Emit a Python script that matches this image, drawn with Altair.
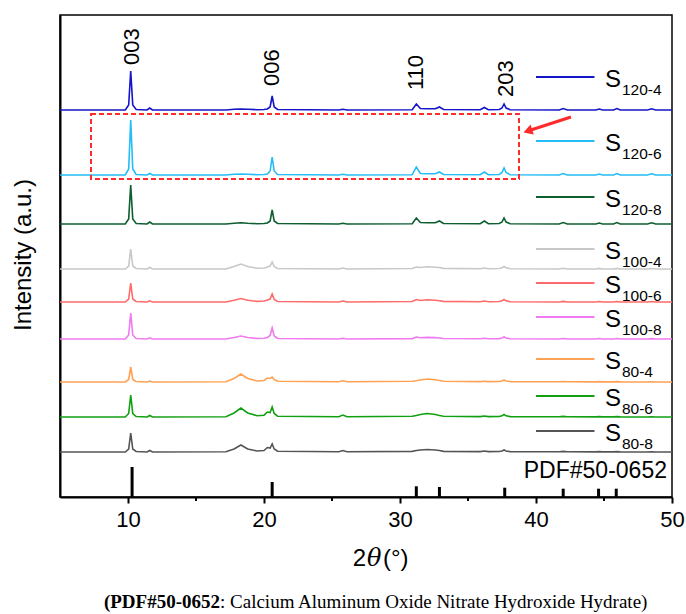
import altair as alt
import pandas as pd

# ---------------- data ----------------
two_theta = [5.0, 9.8, 10.05, 10.2, 10.35, 10.6,
             11.4, 11.6, 11.8,
             17.2, 17.8, 18.3, 18.8, 19.5,
             20.0, 20.25, 20.45, 20.6, 20.75, 21.0,
             25.5, 25.8, 26.1,
             30.9, 31.2, 31.5, 32.0, 32.6, 32.9, 33.2,
             35.9, 36.2, 36.5,
             37.3, 37.5, 37.65, 37.8, 38.1,
             41.7, 42.0, 42.3,
             44.4, 44.65, 44.9,
             45.7, 45.95, 46.2,
             48.2, 48.5, 48.8,
             50.0]

series_names = ["S120-4", "S120-6", "S120-8", "S100-4", "S100-6", "S100-8",
                "S80-4", "S80-6", "S80-8"]
sub_labels = ["120-4", "120-6", "120-8", "100-4", "100-6", "100-8",
              "80-4", "80-6", "80-8"]
series_colors = ["#1414c8", "#25bdf5", "#0e5e30", "#c8c8c8", "#ff6a6a",
                 "#f07af0", "#ffa256", "#12a012", "#555555"]
offsets = [387, 322, 273, 228, 195, 158, 115, 80, 45]
legend_y = [420, 356, 300, 248, 214, 180, 138, 101, 66]

int_120_4 = [0, 0, 5, 39, 5, 0.5,
             0, 2, 0,
             0, 0.7, 1, 0.7, 0.3,
             0.5, 1, 3, 14, 3, 0.5,
             0, 0.8, 0,
             0.3, 6, 1.5, 1.2, 1.2, 3, 0.5,
             0.3, 2.5, 0.3,
             0.5, 2, 6, 2, 0.3,
             0, 1.5, 0,
             0, 1, 0,
             0, 1.5, 0,
             0, 1.2, 0,
             0]
int_120_6 = [0, 0, 6, 55, 6, 0.5,
             0, 1.5, 0,
             0, 0.7, 1, 0.7, 0.3,
             0.5, 1, 4, 18, 4, 0.5,
             0, 0.8, 0,
             0.3, 8, 1.5, 1.2, 1.2, 3, 0.5,
             0.3, 3, 0.3,
             0.5, 2.5, 7, 2.5, 0.3,
             0, 1.5, 0,
             0, 1, 0,
             0, 1.5, 0,
             0, 1.2, 0,
             0]
int_120_8 = [0, 0, 5, 39, 5, 0.5,
             0, 2, 0,
             0, 0.7, 1.2, 0.7, 0.3,
             0.5, 1, 3, 14, 3, 0.5,
             0, 0.8, 0,
             0.3, 6, 1.5, 1.2, 1.2, 3, 0.5,
             0.3, 3, 0.3,
             0.5, 2, 6, 2, 0.3,
             0, 1.5, 0,
             0, 1, 0,
             0, 1.5, 0,
             0, 1.2, 0,
             0]
int_100_4 = [0, 0, 3, 20, 3, 0.5,
             0, 1.5, 0,
             0, 2.5, 5, 2.5, 0.8,
             1, 2, 3, 7, 2.5, 0.5,
             0, 1, 0,
             0.5, 2, 1.5, 2.2, 1.8, 1.5, 0.6,
             0.3, 1, 0.3,
             0.5, 1.2, 2.5, 1.2, 0.3,
             0, 0.8, 0,
             0, 0.6, 0,
             0, 0.6, 0,
             0, 0.5, 0,
             0]
int_100_6 = [0, 0, 3, 19, 3, 0.5,
             0, 1.2, 0,
             0, 1.8, 3.5, 1.8, 0.6,
             1, 2, 3, 8, 2.5, 0.5,
             0, 1, 0,
             0.5, 2.5, 1.5, 2.2, 1.8, 1.2, 0.6,
             0.3, 1, 0.3,
             0.5, 1.2, 2.5, 1.2, 0.3,
             0, 0.6, 0,
             0, 0.5, 0,
             0, 0.5, 0,
             0, 0.5, 0,
             0]
int_100_8 = [0, 0, 4, 26, 4, 0.5,
             0, 1.2, 0,
             0, 1.5, 3, 1.5, 0.5,
             0.8, 1.5, 3.5, 11, 3, 0.5,
             0, 0.7, 0,
             0.4, 2, 1.2, 1.6, 1.4, 1, 0.5,
             0.3, 0.8, 0.3,
             0.4, 1, 2, 1, 0.3,
             0, 0.5, 0,
             0, 0.5, 0,
             0, 0.5, 0,
             0, 0.4, 0,
             0]
int_80_4 = [0, 0, 2.5, 15, 2.5, 0.5,
            0, 1, 0,
            0.3, 3.5, 8, 3.5, 1,
            1.5, 4, 3.5, 5, 2.5, 0.8,
            0.3, 1.2, 0.3,
            0.8, 1.2, 2, 3, 2.2, 1.5, 0.8,
            0.4, 0.8, 0.4,
            0.5, 1, 2, 1, 0.4,
            0.2, 0.5, 0.2,
            0.1, 0.4, 0.1,
            0.1, 0.4, 0.1,
            0, 0.3, 0,
            0]
int_80_6 = [0, 0, 3.5, 22, 3.5, 0.5,
            0, 1.5, 0,
            0.3, 4, 9, 4, 1.2,
            1.8, 5, 4.5, 10, 3.5, 0.8,
            0.3, 2, 0.3,
            0.8, 1.5, 2.5, 3.5, 2.5, 1.5, 0.8,
            0.4, 1, 0.4,
            0.5, 1.2, 2.5, 1.2, 0.4,
            0.2, 0.6, 0.2,
            0.1, 0.4, 0.1,
            0.1, 0.4, 0.1,
            0, 0.3, 0,
            0]
int_80_8 = [0, 0, 3, 19, 3, 0.5,
            0, 1.5, 0,
            0.3, 3, 7, 3, 1,
            1.5, 4.5, 4, 8, 3, 0.8,
            0.3, 1.5, 0.3,
            0.6, 1.5, 2, 2.5, 2, 1.5, 0.6,
            0.4, 1, 0.4,
            0.5, 1, 2, 1, 0.4,
            0.2, 0.6, 0.2,
            0.1, 0.4, 0.1,
            0.1, 0.4, 0.1,
            0, 0.3, 0,
            0]

intensities = [int_120_4, int_120_6, int_120_8, int_100_4, int_100_6,
               int_100_8, int_80_4, int_80_6, int_80_8]

pdf_pos = [10.3, 20.6, 31.2, 32.9, 37.7, 42.0, 44.6, 45.9]
pdf_height = [30, 15, 10.7, 10, 9.3, 8.3, 8.3, 8.3]
pdf_label = "PDF#50-0652"

peak_labels = ["003", "006", "110", "203"]
peak_label_x = [10.3, 20.6, 31.2, 37.8]
peak_label_y = [432, 411, 407, 400]

minor_ticks = [15, 25, 35, 45]
major_ticks = [10, 20, 30, 40, 50]

box_x = [7.28, 38.75]
box_y = [318, 383]
arrow_x = [42.57, 39.4]
arrow_y = [380, 366]

caption_bold = "(PDF#50-0652"
caption_rest = ": Calcium Aluminum Oxide Nitrate Hydroxide Hydrate)"

# ---------------- build tables ----------------
rows = []
for name, off, vals in zip(series_names, offsets, intensities):
    assert len(vals) == len(two_theta), name
    for xv, v in zip(two_theta, vals):
        rows.append({"series": name, "x": xv, "y": off + v})
df_lines = pd.DataFrame(rows)

df_pdf = pd.DataFrame({"x": pdf_pos, "y": [0] * len(pdf_pos), "y2": pdf_height})
df_peaks = pd.DataFrame({"label": peak_labels, "x": peak_label_x, "y": peak_label_y})

LEG_X0, LEG_X1, LEG_S_X, LEG_SUB_X = 40.0, 44.3, 45.07, 46.32
df_leg = pd.DataFrame({"series": series_names, "sub": sub_labels, "y": legend_y})
df_leg["x"] = LEG_X0
df_leg["x2"] = LEG_X1
df_leg["xs"] = LEG_S_X
df_leg["xsub"] = LEG_SUB_X

df_box = pd.DataFrame({"x": [box_x[0]], "x2": [box_x[1]], "y": [box_y[0]], "y2": [box_y[1]]})
df_arrow = pd.DataFrame({"x": arrow_x, "y": arrow_y, "o": [0, 1]})
df_head = pd.DataFrame({"x": [arrow_x[1]], "y": [arrow_y[1]]})
df_minor = pd.DataFrame({"x": minor_ticks})
df_one = pd.DataFrame({"t": [""]})

FONT = "Liberation Sans"
RED = "#ff2a2a"

xscale = alt.Scale(domain=[5, 50], nice=False, zero=False)
yscale = alt.Scale(domain=[0, 482], nice=False, zero=False)
xaxis = alt.Axis(values=major_ticks, tickSize=6, tickWidth=2, tickColor="black",
                 labelFontSize=22, labelFont=FONT, labelColor="black", labelPadding=6,
                 domainColor="black", domainWidth=2, grid=False, title=None,
                 labelFlush=False)
yaxis = alt.Axis(labels=False, ticks=False, grid=False, title=None,
                 domainColor="black", domainWidth=2)


def X(field="x"):
    return alt.X(f"{field}:Q", scale=xscale, axis=xaxis)


def Y(field="y"):
    return alt.Y(f"{field}:Q", scale=yscale, axis=yaxis)


color = alt.Color("series:N", scale=alt.Scale(domain=series_names, range=series_colors),
                  legend=None)

lines = alt.Chart(df_lines).mark_line(strokeWidth=1.6).encode(
    x=X(), y=Y(), color=color, order=alt.Order("x:Q"))

sticks = alt.Chart(df_pdf).mark_rule(strokeWidth=3, color="black").encode(
    x=X(), y=Y(), y2="y2:Q")

pdf_text = alt.Chart(pd.DataFrame({"t": [pdf_label], "x": [49.63], "y": [19]})).mark_text(
    align="right", baseline="alphabetic", fontSize=23, font=FONT, color="black"
).encode(x=X(), y=Y(), text="t:N")

peaks = alt.Chart(df_peaks).mark_text(
    angle=270, align="left", baseline="middle", fontSize=22, font=FONT, color="black"
).encode(x=X(), y=Y(), text="label:N")

leg_rules = alt.Chart(df_leg).mark_rule(strokeWidth=2).encode(
    x=X(), x2="x2:Q", y=Y(), color=color)
leg_s = alt.Chart(df_leg).mark_text(
    align="left", baseline="alphabetic", dy=10, fontSize=24, font=FONT, color="black"
).encode(x=X("xs"), y=Y(), text=alt.value("S"))
leg_sub = alt.Chart(df_leg).mark_text(
    align="left", baseline="alphabetic", dy=18, fontSize=15.5, font=FONT, color="black"
).encode(x=X("xsub"), y=Y(), text="sub:N")

box = alt.Chart(df_box).mark_rect(filled=False, stroke=RED, strokeWidth=2,
                                  strokeDash=[5, 3]).encode(
    x=X(), x2="x2:Q", y=Y(), y2="y2:Q")
arrow = alt.Chart(df_arrow).mark_line(color=RED, strokeWidth=3).encode(
    x=X(), y=Y(), order="o:Q")
head = alt.Chart(df_head).mark_point(shape="triangle-up", filled=True, color=RED,
                                     opacity=1, size=110, angle=252).encode(x=X(), y=Y())

minor = alt.Chart(df_minor).mark_rule(strokeWidth=2, color="black").encode(
    x=X(), y=alt.value(482), y2=alt.value(486))

# titles / caption (pixel positions relative to plot area)
y_title = alt.Chart(df_one).mark_text(
    angle=270, align="center", baseline="middle", fontSize=24, font=FONT, color="black"
).encode(x=alt.value(-36), y=alt.value(240), text=alt.value("Intensity (a.u.)"))

xt_2 = alt.Chart(df_one).mark_text(align="right", baseline="alphabetic", fontSize=24,
                                   font=FONT, color="black").encode(
    x=alt.value(306), y=alt.value(551), text=alt.value("2"))
xt_theta = alt.Chart(df_one).mark_text(align="left", baseline="alphabetic", fontSize=24,
                                       font="DejaVu Serif", fontStyle="italic",
                                       color="black").encode(
    x=alt.value(307), y=alt.value(551), text=alt.value("θ"))
xt_deg = alt.Chart(df_one).mark_text(align="left", baseline="alphabetic", fontSize=24,
                                     font=FONT, color="black").encode(
    x=alt.value(323), y=alt.value(551), text=alt.value("(°)"))

cap_b = alt.Chart(df_one).mark_text(align="right", baseline="alphabetic", fontSize=19,
                                    font="Liberation Serif", fontWeight="bold",
                                    color="black").encode(
    x=alt.value(160), y=alt.value(593), text=alt.value(caption_bold))
cap_r = alt.Chart(df_one).mark_text(align="left", baseline="alphabetic", fontSize=19,
                                    font="Liberation Serif", color="black").encode(
    x=alt.value(160), y=alt.value(593), text=alt.value(caption_rest))

chart = alt.layer(
    lines, sticks, pdf_text, peaks, leg_rules, leg_s, leg_sub, box, arrow, head,
    minor, y_title, xt_2, xt_theta, xt_deg, cap_b, cap_r
).properties(
    width=612, height=482,
    padding={"left": 60, "top": 15, "right": 14, "bottom": 117},
    autosize=alt.AutoSizeParams(type="none"),
    background="white",
).configure_view(stroke="black", strokeWidth=1.5)

chart.save("out.html", embed_options={"renderer": "svg", "actions": False})
